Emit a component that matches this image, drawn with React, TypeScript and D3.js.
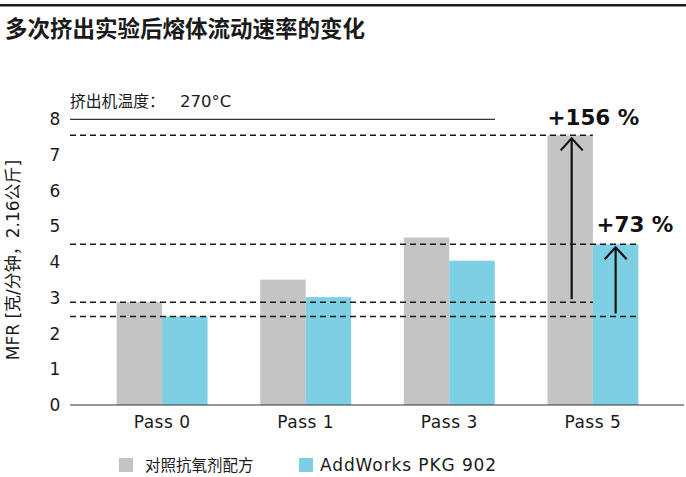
import * as d3 from 'd3';

const passes = ['Pass 0', 'Pass 1', 'Pass 3', 'Pass 5'];
const seriesNames = ['对照抗氧剂配方', 'AddWorks PKG 902'];
const controlValues = [2.88, 3.51, 4.69, 7.55];
const addworksValues = [2.48, 3.02, 4.04, 4.5];
const yTicks = [0, 1, 2, 3, 4, 5, 6, 7, 8];
const changeLabels = ['+156 %', '+73 %'];

const colors = ['#c4c4c4', '#7dcfe3'];
const font = '"DejaVu Sans", "Noto Sans CJK SC", sans-serif';
const cjk = '"Noto Sans CJK SC", "Noto Sans", sans-serif';

export default function App() {
  const width = 686;
  const height = 477;
  const left = 70;

  const y = d3.scaleLinear().domain([0, 8]).range([405, 119.3]);
  const x = d3.scaleBand<string>()
    .domain(passes)
    .range([90.3, 664.7])
    .paddingInner(0.367)
    .paddingOuter(0.1835);
  const xInner = d3.scaleBand<number>()
    .domain([0, 1])
    .range([0, x.bandwidth()]);

  const series = [controlValues, addworksValues];
  const last = passes[passes.length - 1];

  // dashed reference lines: first and last pass for each series
  const refLines = series.flatMap((vals, s) => [
    { v: vals[0], x2: x(last)! + xInner(s)! + xInner.bandwidth() },
    { v: vals[vals.length - 1], x2: x(last)! + xInner(s)! + xInner.bandwidth() },
  ]);

  const arrows = series.map((vals, s) => ({
    cx: x(last)! + xInner(s)! + xInner.bandwidth() / 2 + (s === 0 ? 1.5 : 0),
    y1: y(vals[0]) - 3,
    y2: y(vals[vals.length - 1]) + 3,
  }));

  return (
    <svg width={width} height={height} style={{ position: 'absolute', left: 0, top: 0, background: '#fff' }}>
      <rect x={0} y={4} width={width} height={2.5} fill="#1a1a1a" />
      <text x={5} y={37} fontFamily={cjk} fontWeight={700} fontSize={22.5} fill="#1a1a1a">
        多次挤出实验后熔体流动速率的变化
      </text>

      <text x={left} y={107} fontFamily={cjk} fontSize={15.8} fill="#1a1a1a">
        挤出机温度：
        <tspan x={180} fontFamily={font} fontSize={16.5}>270°C</tspan>
      </text>
      <line x1={left} x2={495} y1={y(8)} y2={y(8)} stroke="#333" strokeWidth={1.2} />

      {/* y ticks */}
      {yTicks.map(t => (
        <text key={t} x={55} y={y(t)} textAnchor="middle" dominantBaseline="central"
          fontFamily={font} fontSize={17} fill="#1a1a1a">{t}</text>
      ))}
      <text transform={`translate(13,260) rotate(-90)`} textAnchor="middle" dominantBaseline="central"
        fontFamily={font} fontSize={17} fill="#1a1a1a">MFR [克/分钟，2.16公斤]</text>

      {/* bars */}
      {passes.map((p, i) => (
        <g key={p} transform={`translate(${x(p)},0)`}>
          {series.map((vals, s) => (
            <rect key={s} x={xInner(s)} y={y(vals[i])} width={xInner.bandwidth()}
              height={y(0) - y(vals[i])} fill={colors[s]} />
          ))}
          <text x={x.bandwidth() / 2} y={428} textAnchor="middle" fontFamily={font}
            fontSize={17} letterSpacing={0.5} fill="#1a1a1a">{p}</text>
        </g>
      ))}

      <line x1={left} x2={684} y1={y(0)} y2={y(0)} stroke="#333" strokeWidth={1.2} />

      {/* dashed reference lines */}
      {refLines.map((r, i) => (
        <line key={i} x1={left} x2={r.x2} y1={y(r.v)} y2={y(r.v)} stroke="#1a1a1a"
          strokeWidth={1.5} strokeDasharray="6 4" />
      ))}

      {/* arrows */}
      {arrows.map((a, i) => (
        <g key={i} stroke="#111" strokeWidth={2.2} fill="none">
          <line x1={a.cx} x2={a.cx} y1={a.y1} y2={a.y2} />
          <polyline points={`${a.cx - 11},${a.y2 + 12} ${a.cx},${a.y2} ${a.cx + 11},${a.y2 + 12}`} />
        </g>
      ))}

      <text x={x(last)!} y={125} fontFamily={font} fontWeight={700} fontSize={21.5} fill="#111">
        {changeLabels[0]}
      </text>
      <text x={x(last)! + 49} y={232} fontFamily={font} fontWeight={700} fontSize={21.5} fill="#111">
        {changeLabels[1]}
      </text>

      {/* legend */}
      {seriesNames.map((n, s) => {
        const lx = [119, 299][s];
        return (
          <g key={n}>
            <rect x={lx} y={458} width={14} height={14} fill={colors[s]} />
            <text x={lx + (s === 0 ? 26 : 21)} y={471} fontFamily={s === 0 ? cjk : font}
              fontSize={s === 0 ? 15.5 : 17} letterSpacing={s === 0 ? 0 : 0.9}
              fill="#1a1a1a">{n}</text>
          </g>
        );
      })}
    </svg>
  );
}
